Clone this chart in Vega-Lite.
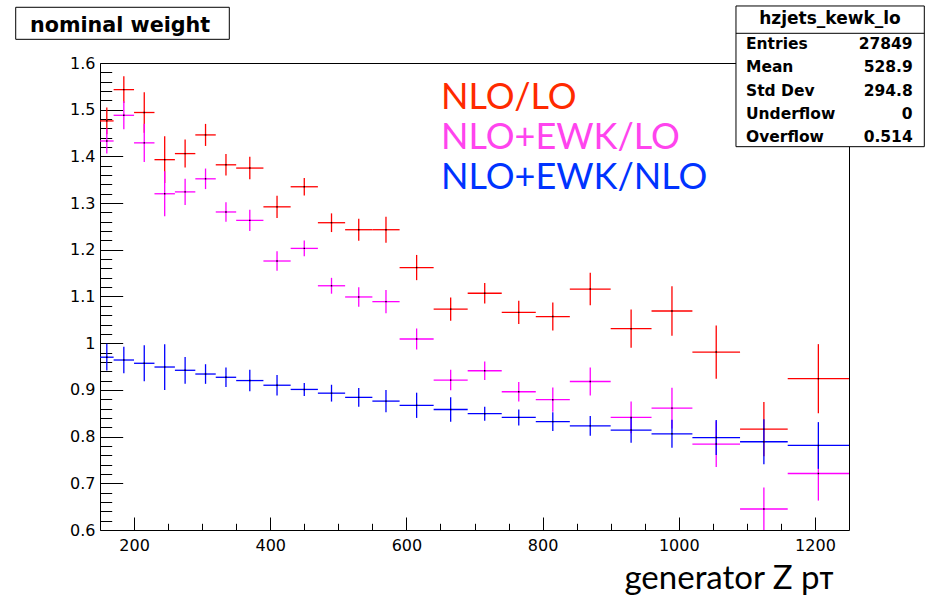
{
  "$schema": "https://vega.github.io/schema/vega-lite/v6.json",
  "width": 749,
  "height": 467,
  "autosize": "none",
  "padding": {"left": 100, "top": 63, "right": 82, "bottom": 70},
  "background": "white",
  "config": {
    "font": "DejaVu Sans",
    "view": {"stroke": "black", "strokeWidth": 1},
    "axis": {"grid": false, "domain": false, "tickColor": "black", "tickWidth": 1, "labelColor": "black", "labelFont": "DejaVu Sans", "labelFontSize": 16, "labelFlush": false, "labelOverlap": false}
  },
  "data": {"values": [
    {"s":"NLO/LO","lo":150,"hi":170,"c":160,"v":1.476,"e":0.0285},
    {"s":"NLO/LO","lo":170,"hi":200,"c":185,"v":1.543,"e":0.0286},
    {"s":"NLO/LO","lo":200,"hi":230,"c":215,"v":1.494,"e":0.0435},
    {"s":"NLO/LO","lo":230,"hi":260,"c":245,"v":1.393,"e":0.05},
    {"s":"NLO/LO","lo":260,"hi":290,"c":275,"v":1.406,"e":0.03},
    {"s":"NLO/LO","lo":290,"hi":320,"c":305,"v":1.446,"e":0.0236},
    {"s":"NLO/LO","lo":320,"hi":350,"c":335,"v":1.382,"e":0.023},
    {"s":"NLO/LO","lo":350,"hi":390,"c":370,"v":1.375,"e":0.024},
    {"s":"NLO/LO","lo":390,"hi":430,"c":410,"v":1.292,"e":0.024},
    {"s":"NLO/LO","lo":430,"hi":470,"c":450,"v":1.335,"e":0.0186},
    {"s":"NLO/LO","lo":470,"hi":510,"c":490,"v":1.258,"e":0.02},
    {"s":"NLO/LO","lo":510,"hi":550,"c":530,"v":1.243,"e":0.0236},
    {"s":"NLO/LO","lo":550,"hi":590,"c":570,"v":1.243,"e":0.028},
    {"s":"NLO/LO","lo":590,"hi":640,"c":615,"v":1.162,"e":0.027},
    {"s":"NLO/LO","lo":640,"hi":690,"c":665,"v":1.073,"e":0.025},
    {"s":"NLO/LO","lo":690,"hi":740,"c":715,"v":1.107,"e":0.022},
    {"s":"NLO/LO","lo":740,"hi":790,"c":765,"v":1.066,"e":0.025},
    {"s":"NLO/LO","lo":790,"hi":840,"c":815,"v":1.057,"e":0.03},
    {"s":"NLO/LO","lo":840,"hi":900,"c":870,"v":1.116,"e":0.035},
    {"s":"NLO/LO","lo":900,"hi":960,"c":930,"v":1.031,"e":0.041},
    {"s":"NLO/LO","lo":960,"hi":1020,"c":990,"v":1.069,"e":0.053},
    {"s":"NLO/LO","lo":1020,"hi":1090,"c":1055,"v":0.981,"e":0.057},
    {"s":"NLO/LO","lo":1090,"hi":1160,"c":1125,"v":0.816,"e":0.058},
    {"s":"NLO/LO","lo":1160,"hi":1250,"c":1205,"v":0.924,"e":0.074},
    {"s":"NLO+EWK/LO","lo":150,"hi":170,"c":160,"v":1.433,"e":0.027},
    {"s":"NLO+EWK/LO","lo":170,"hi":200,"c":185,"v":1.488,"e":0.03},
    {"s":"NLO+EWK/LO","lo":200,"hi":230,"c":215,"v":1.429,"e":0.041},
    {"s":"NLO+EWK/LO","lo":230,"hi":260,"c":245,"v":1.32,"e":0.048},
    {"s":"NLO+EWK/LO","lo":260,"hi":290,"c":275,"v":1.324,"e":0.028},
    {"s":"NLO+EWK/LO","lo":290,"hi":320,"c":305,"v":1.352,"e":0.022},
    {"s":"NLO+EWK/LO","lo":320,"hi":350,"c":335,"v":1.281,"e":0.021},
    {"s":"NLO+EWK/LO","lo":350,"hi":390,"c":370,"v":1.263,"e":0.0225},
    {"s":"NLO+EWK/LO","lo":390,"hi":430,"c":410,"v":1.176,"e":0.021},
    {"s":"NLO+EWK/LO","lo":430,"hi":470,"c":450,"v":1.203,"e":0.017},
    {"s":"NLO+EWK/LO","lo":470,"hi":510,"c":490,"v":1.123,"e":0.017},
    {"s":"NLO+EWK/LO","lo":510,"hi":550,"c":530,"v":1.099,"e":0.021},
    {"s":"NLO+EWK/LO","lo":550,"hi":590,"c":570,"v":1.089,"e":0.025},
    {"s":"NLO+EWK/LO","lo":590,"hi":640,"c":615,"v":1.009,"e":0.0225},
    {"s":"NLO+EWK/LO","lo":640,"hi":690,"c":665,"v":0.921,"e":0.022},
    {"s":"NLO+EWK/LO","lo":690,"hi":740,"c":715,"v":0.941,"e":0.0196},
    {"s":"NLO+EWK/LO","lo":740,"hi":790,"c":765,"v":0.896,"e":0.021},
    {"s":"NLO+EWK/LO","lo":790,"hi":840,"c":815,"v":0.879,"e":0.026},
    {"s":"NLO+EWK/LO","lo":840,"hi":900,"c":870,"v":0.918,"e":0.03},
    {"s":"NLO+EWK/LO","lo":900,"hi":960,"c":930,"v":0.841,"e":0.034},
    {"s":"NLO+EWK/LO","lo":960,"hi":1020,"c":990,"v":0.861,"e":0.0436},
    {"s":"NLO+EWK/LO","lo":1020,"hi":1090,"c":1055,"v":0.784,"e":0.049},
    {"s":"NLO+EWK/LO","lo":1090,"hi":1160,"c":1125,"v":0.645,"e":0.046},
    {"s":"NLO+EWK/LO","lo":1160,"hi":1250,"c":1205,"v":0.721,"e":0.058},
    {"s":"NLO+EWK/NLO","lo":150,"hi":170,"c":160,"v":0.97,"e":0.0286},
    {"s":"NLO+EWK/NLO","lo":170,"hi":200,"c":185,"v":0.964,"e":0.0286},
    {"s":"NLO+EWK/NLO","lo":200,"hi":230,"c":215,"v":0.957,"e":0.0386},
    {"s":"NLO+EWK/NLO","lo":230,"hi":260,"c":245,"v":0.949,"e":0.049},
    {"s":"NLO+EWK/NLO","lo":260,"hi":290,"c":275,"v":0.942,"e":0.0286},
    {"s":"NLO+EWK/NLO","lo":290,"hi":320,"c":305,"v":0.934,"e":0.021},
    {"s":"NLO+EWK/NLO","lo":320,"hi":350,"c":335,"v":0.927,"e":0.021},
    {"s":"NLO+EWK/NLO","lo":350,"hi":390,"c":370,"v":0.92,"e":0.023},
    {"s":"NLO+EWK/NLO","lo":390,"hi":430,"c":410,"v":0.91,"e":0.022},
    {"s":"NLO+EWK/NLO","lo":430,"hi":470,"c":450,"v":0.901,"e":0.014},
    {"s":"NLO+EWK/NLO","lo":470,"hi":510,"c":490,"v":0.893,"e":0.018},
    {"s":"NLO+EWK/NLO","lo":510,"hi":550,"c":530,"v":0.884,"e":0.02},
    {"s":"NLO+EWK/NLO","lo":550,"hi":590,"c":570,"v":0.876,"e":0.024},
    {"s":"NLO+EWK/NLO","lo":590,"hi":640,"c":615,"v":0.867,"e":0.027},
    {"s":"NLO+EWK/NLO","lo":640,"hi":690,"c":665,"v":0.858,"e":0.026},
    {"s":"NLO+EWK/NLO","lo":690,"hi":740,"c":715,"v":0.849,"e":0.015},
    {"s":"NLO+EWK/NLO","lo":740,"hi":790,"c":765,"v":0.841,"e":0.017},
    {"s":"NLO+EWK/NLO","lo":790,"hi":840,"c":815,"v":0.832,"e":0.02},
    {"s":"NLO+EWK/NLO","lo":840,"hi":900,"c":870,"v":0.823,"e":0.021},
    {"s":"NLO+EWK/NLO","lo":900,"hi":960,"c":930,"v":0.814,"e":0.027},
    {"s":"NLO+EWK/NLO","lo":960,"hi":1020,"c":990,"v":0.806,"e":0.03},
    {"s":"NLO+EWK/NLO","lo":1020,"hi":1090,"c":1055,"v":0.798,"e":0.0375},
    {"s":"NLO+EWK/NLO","lo":1090,"hi":1160,"c":1125,"v":0.789,"e":0.048},
    {"s":"NLO+EWK/NLO","lo":1160,"hi":1250,"c":1205,"v":0.781,"e":0.05}
  ]},
  "layer": [
    {
      "mark": {"type": "rule", "strokeWidth": 1.3, "clip": true},
      "encoding": {
        "x": {"field": "lo", "type": "quantitative", "scale": {"domain": [150, 1250], "nice": false, "zero": false},
          "axis": {"orient": "bottom", "values": [200, 400, 600, 800, 1000, 1200], "format": "d", "tickSize": -13, "labelPadding": 20,
            "title": "generator Z p\u1d1b", "titleFont": "Lato", "titleFontSize": 33, "titleFontWeight": "normal", "titleColor": "black",
            "titleAnchor": "end", "titleAlign": "right", "titleBaseline": "alphabetic", "titleX": 733, "titleY": 58}},
        "x2": {"field": "hi"},
        "y": {"field": "v", "type": "quantitative", "scale": {"domain": [0.6, 1.6], "nice": false, "zero": false},
          "axis": {"orient": "left", "values": [0.6, 0.7, 0.8, 0.9, 1, 1.1, 1.2, 1.3, 1.4, 1.5, 1.6], "format": "~g", "tickSize": -22.7, "labelPadding": 27.7, "title": null}},
        "color": {"field": "s", "type": "nominal",
          "scale": {"domain": ["NLO/LO", "NLO+EWK/LO", "NLO+EWK/NLO"], "range": ["#ff0000", "#ff00ff", "#0000ff"]},
          "legend": {"orient": "none", "legendX": 305, "legendY": 17, "title": null, "padding": 0, "symbolSize": 0, "symbolOpacity": 0, "symbolStrokeWidth": 0,
            "labelOffset": 0, "labelFont": "Lato", "labelFontSize": 36, "labelLimit": 0, "rowPadding": 4,
            "encode": {"labels": {"update": {"fill": {"signal": "datum.value === 'NLO/LO' ? '#ff2a00' : datum.value === 'NLO+EWK/LO' ? '#ff44ee' : '#0033ff'"}}}}}}
      }
    },
    {
      "mark": {"type": "errorbar", "thickness": 1.3, "clip": true},
      "encoding": {
        "x": {"field": "c", "type": "quantitative", "scale": {"domain": [150, 1250], "nice": false, "zero": false}, "axis": null},
        "y": {"field": "v", "type": "quantitative", "scale": {"domain": [0.6, 1.6], "nice": false, "zero": false}, "axis": null},
        "yError": {"field": "e"},
        "color": {"field": "s", "type": "nominal", "scale": {"domain": ["NLO/LO", "NLO+EWK/LO", "NLO+EWK/NLO"], "range": ["#ff0000", "#ff00ff", "#0000ff"]}}
      }
    },
    {
      "mark": {"type": "point", "shape": "square", "size": 2, "filled": true, "color": "black", "opacity": 1, "clip": true},
      "encoding": {
        "x": {"field": "c", "type": "quantitative", "scale": {"domain": [150, 1250], "nice": false, "zero": false},
          "axis": {"orient": "bottom", "values": [250, 300, 350, 450, 500, 550, 650, 700, 750, 850, 900, 950, 1050, 1100, 1150], "tickSize": -6.7, "labels": false, "title": null}},
        "y": {"field": "v", "type": "quantitative", "scale": {"domain": [0.6, 1.6], "nice": false, "zero": false},
          "axis": {"orient": "left", "values": [0.62, 0.64, 0.66, 0.68, 0.72, 0.74, 0.76, 0.78, 0.82, 0.84, 0.86, 0.88, 0.92, 0.94, 0.96, 0.98, 1.02, 1.04, 1.06, 1.08, 1.12, 1.14, 1.16, 1.18, 1.22, 1.24, 1.26, 1.28, 1.32, 1.34, 1.36, 1.38, 1.42, 1.44, 1.46, 1.48, 1.52, 1.54, 1.56, 1.58], "tickSize": -11.7, "labels": false, "title": null}}
      }
    },
    {
      "data": {"values": [{"box": "nominal weight"}]},
      "mark": {"type": "rect", "fill": "white", "stroke": "black", "strokeWidth": 1},
      "encoding": {
        "x": {"datum": 26.2, "type": "quantitative", "scale": {"domain": [150, 1250], "nice": false, "zero": false}, "axis": null},
        "x2": {"datum": 339.9},
        "y": {"datum": 1.7193, "type": "quantitative", "scale": {"domain": [0.6, 1.6], "nice": false, "zero": false}, "axis": null},
        "y2": {"datum": 1.6507}
      }
    },
    {
      "data": {"values": [{"box": "nominal weight"}]},
      "mark": {"type": "text", "font": "DejaVu Sans", "fontWeight": "bold", "fontSize": 20.7, "align": "left", "baseline": "alphabetic", "color": "black"},
      "encoding": {
        "x": {"datum": 47.2, "type": "quantitative", "scale": {"domain": [150, 1250], "nice": false, "zero": false}, "axis": null},
        "y": {"datum": 1.667, "type": "quantitative", "scale": {"domain": [0.6, 1.6], "nice": false, "zero": false}, "axis": null},
        "text": {"field": "box"}
      }
    },
    {
      "data": {"values": [{"name": "hzjets_kewk_lo"}]},
      "mark": {"type": "rect", "fill": "white", "stroke": "black", "strokeWidth": 1},
      "encoding": {
        "x": {"datum": 1084, "type": "quantitative", "scale": {"domain": [150, 1250], "nice": false, "zero": false}, "axis": null},
        "x2": {"datum": 1360.6},
        "y": {"datum": 1.7221, "type": "quantitative", "scale": {"domain": [0.6, 1.6], "nice": false, "zero": false}, "axis": null},
        "y2": {"datum": 1.4208}
      }
    },
    {
      "data": {"values": [{"name": "hzjets_kewk_lo"}]},
      "mark": {"type": "rule", "color": "black", "strokeWidth": 1},
      "encoding": {
        "x": {"datum": 1084, "type": "quantitative", "scale": {"domain": [150, 1250], "nice": false, "zero": false}, "axis": null},
        "x2": {"datum": 1360.6},
        "y": {"datum": 1.6636, "type": "quantitative", "scale": {"domain": [0.6, 1.6], "nice": false, "zero": false}, "axis": null}
      }
    },
    {
      "data": {"values": [{"name": "hzjets_kewk_lo"}]},
      "mark": {"type": "text", "font": "DejaVu Sans", "fontWeight": "bold", "fontSize": 17, "align": "center", "baseline": "alphabetic", "color": "black"},
      "encoding": {
        "x": {"datum": 1222.1, "type": "quantitative", "scale": {"domain": [150, 1250], "nice": false, "zero": false}, "axis": null},
        "y": {"datum": 1.6835, "type": "quantitative", "scale": {"domain": [0.6, 1.6], "nice": false, "zero": false}, "axis": null},
        "text": {"field": "name"}
      }
    },
    {
      "data": {"values": [{"stat": "Entries\nMean\nStd Dev\nUnderflow\nOverflow"}]},
      "mark": {"type": "text", "font": "DejaVu Sans", "fontWeight": "bold", "fontSize": 15.5, "align": "left", "baseline": "alphabetic", "color": "black", "lineBreak": "\n", "lineHeight": 23.1},
      "encoding": {
        "x": {"datum": 1098.7, "type": "quantitative", "scale": {"domain": [150, 1250], "nice": false, "zero": false}, "axis": null},
        "y": {"datum": 1.6293, "type": "quantitative", "scale": {"domain": [0.6, 1.6], "nice": false, "zero": false}, "axis": null},
        "text": {"field": "stat"}
      }
    },
    {
      "data": {"values": [{"val": "27849\n528.9\n294.8\n0\n0.514"}]},
      "mark": {"type": "text", "font": "DejaVu Sans", "fontWeight": "bold", "fontSize": 15.5, "align": "right", "baseline": "alphabetic", "color": "black", "lineBreak": "\n", "lineHeight": 23.1},
      "encoding": {
        "x": {"datum": 1343.5, "type": "quantitative", "scale": {"domain": [150, 1250], "nice": false, "zero": false}, "axis": null},
        "y": {"datum": 1.6293, "type": "quantitative", "scale": {"domain": [0.6, 1.6], "nice": false, "zero": false}, "axis": null},
        "text": {"field": "val"}
      }
    }
  ],
  "resolve": {"axis": {"x": "independent", "y": "independent"}}
}
